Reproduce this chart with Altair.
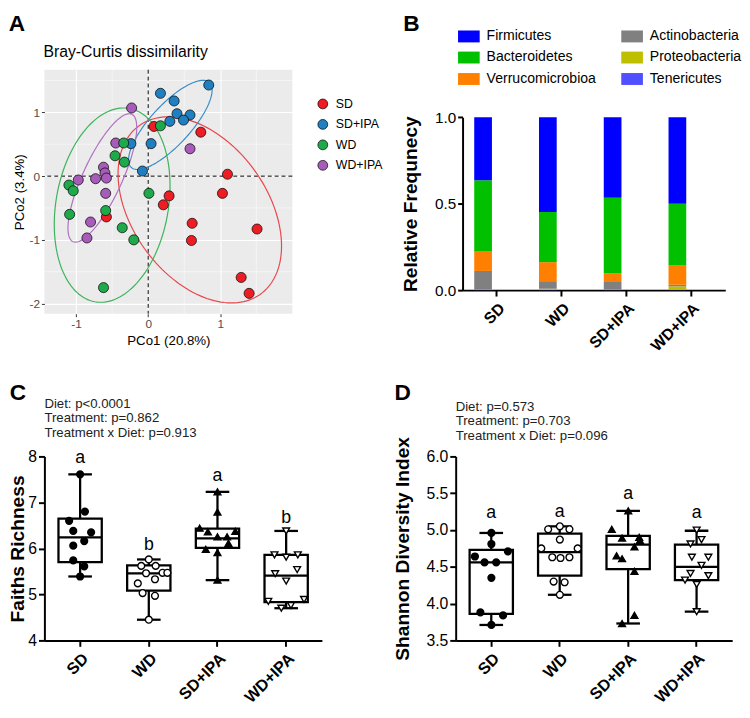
import altair as alt
import numpy as np
import pandas as pd

FONT = "Liberation Sans"

# ---------------- Panel A : PCoA (Bray-Curtis) ----------------
pcoa_groups = ["SD", "SD+IPA", "WD", "WD+IPA"]
pcoa_colors = ["#EE1D23", "#1F7FC1", "#1EAA4B", "#A65CB8"]
ellipse_colors = ["#E8474C", "#3A8DC6", "#3DB35A", "#B071C2"]

sd_pc1 = [0.73, 0.08, 1.10, 1.03, 0.29, 0.21, 0.61, 0.60, 1.51, 1.29, 1.40, -0.58]
sd_pc2 = [0.69, 0.78, 0.03, -0.27, -0.31, -0.45, -0.74, -1.01, -0.83, -1.59, -1.84, -0.64]
sdipa_pc1 = [0.84, 0.17, 0.36, 0.40, 0.58, 0.30, 0.49, 0.04, -0.24, -0.08]
sdipa_pc2 = [1.43, 1.30, 1.18, 0.98, 0.96, 0.86, 0.88, 0.51, 0.51, 0.08]
wdipa_pc1 = [-0.23, -0.45, 0.58, -0.62, -0.60, -0.73, -0.58, -0.97, -0.59, -0.80, -0.85]
wdipa_pc2 = [1.07, 0.52, 0.43, 0.14, 0.05, -0.04, -0.03, -0.06, -0.27, -0.72, -0.97]
wd_pc1 = [0.17, -0.34, -0.46, -0.33, -1.10, -1.04, 0.01, -1.09, -0.59, -0.36, -0.20, -0.62]
wd_pc2 = [0.79, 0.52, 0.32, 0.22, -0.14, -0.23, -0.27, -0.60, -0.54, -0.81, -1.00, -1.75]

# confidence ellipses: centre and shape matrix
ell_cx = [0.716, 0.307, -0.500, -0.636]
ell_cy = [-0.530, 0.804, -0.455, -0.028]
ell_sxx = [1.286, 0.336, 0.645, 0.2275]
ell_sxy = [-0.642, 0.318, 0.243, 0.376]
ell_syy = [2.132, 0.490, 2.326, 1.016]

major_x = [-1, 0, 1]
major_y = [-2, -1, 0, 1]
minor_x = [-0.5, 0.5, 1.5]
minor_y = [-1.5, -0.5, 0.5, 1.5]

# ---------------- Panel B : phylum composition ----------------
diets = ["SD", "WD", "SD+IPA", "WD+IPA"]
phyla_stack = ["Tenericutes", "Proteobacteria", "Actinobacteria",
               "Verrucomicrobioa", "Bacteroidetes", "Firmicutes"]
phyla_legend = ["Firmicutes", "Bacteroidetes", "Verrucomicrobioa",
                "Actinobacteria", "Proteobacteria", "Tenericutes"]
phyla_colors = ["#0000FF", "#00C000", "#FF8000", "#808080", "#BFBF00", "#5050FF"]
firmicutes = [0.365, 0.548, 0.466, 0.500]
bacteroidetes = [0.411, 0.290, 0.436, 0.357]
verrucomicrobia = [0.113, 0.110, 0.051, 0.112]
actinobacteria = [0.105, 0.044, 0.041, 0.009]
proteobacteria = [0.002, 0.006, 0.002, 0.019]
tenericutes = [0.004, 0.002, 0.004, 0.003]

# ---------------- Panel C : Faith's richness ----------------
c_sd = [7.61, 6.80, 6.60, 6.38, 6.35, 6.16, 6.06, 5.74, 5.61, 5.39]
c_wd = [5.76, 5.62, 5.62, 5.47, 5.47, 5.46, 5.33, 5.24, 5.03, 4.97, 4.45]
c_sdipa = [7.23, 6.79, 6.44, 6.36, 6.25, 6.25, 6.37, 6.11, 5.98, 5.91, 5.31]
c_wdipa = [6.38, 5.86, 5.81, 5.86, 5.45, 5.54, 5.29, 4.85, 4.89, 4.70, 4.76]
c_sd_j = [0, 0.07, -0.16, -0.10, 0.16, 0.06, -0.10, -0.10, 0.06, 0]
c_wd_j = [0, -0.11, 0.10, 0.20, 0.27, -0.04, 0.09, -0.16, -0.09, 0.09, 0]
c_sdipa_j = [0, 0, -0.26, -0.14, 0, 0.14, 0.26, 0.16, -0.17, 0, 0]
c_wdipa_j = [0, -0.17, 0, 0.17, -0.16, 0.16, 0, -0.26, 0.26, -0.07, 0.07]
c_max = [7.61, 5.76, 7.23, 6.38]
c_q3 = [6.65, 5.63, 6.43, 5.86]
c_med = [6.24, 5.46, 6.22, 5.41]
c_q1 = [5.70, 5.08, 6.01, 4.83]
c_min = [5.39, 4.45, 5.31, 4.70]
c_letters = ["a", "b", "a", "b"]
c_letter_y = [7.96, 6.08, 7.57, 6.65]
c_stats = "Diet: p<0.0001\nTreatment: p=0.862\nTreatment x Diet: p=0.913"

# ---------------- Panel D : Shannon diversity ----------------
d_sd = [4.96, 4.81, 4.64, 4.71, 4.56, 4.56, 4.35, 3.88, 3.84, 3.71]
d_wd = [5.01, 5.05, 5.01, 4.87, 4.75, 4.75, 4.63, 4.62, 4.63, 4.30, 4.29, 4.12]
d_sdipa = [5.26, 5.01, 4.89, 4.90, 4.86, 4.77, 4.65, 4.61, 4.44, 3.84, 3.73]
d_wdipa = [5.00, 4.87, 4.81, 4.63, 4.63, 4.52, 4.41, 4.38, 4.32, 4.26, 3.89]
d_sd_j = [0, 0, -0.24, 0.24, -0.10, 0.07, 0, -0.16, 0.17, 0]
d_wd_j = [-0.17, 0, 0.14, 0, -0.27, 0.26, -0.11, 0.01, 0.14, -0.09, 0.07, 0]
d_sdipa_j = [0, -0.24, -0.09, 0.16, 0.17, 0.09, -0.17, -0.09, 0.09, 0.09, -0.09]
d_wdipa_j = [0, 0.07, -0.09, -0.07, 0.17, 0.07, -0.09, 0.17, -0.17, 0, 0]
d_max = [4.96, 5.05, 5.26, 4.99]
d_q3 = [4.73, 4.95, 4.92, 4.80]
d_med = [4.56, 4.70, 4.80, 4.50]
d_q1 = [3.86, 4.38, 4.47, 4.32]
d_min = [3.71, 4.12, 3.73, 3.89]
d_letters = ["a", "a", "a", "a"]
d_letter_y = [5.23, 5.25, 5.49, 5.23]
d_stats = "Diet: p=0.573\nTreatment: p=0.703\nTreatment x Diet: p=0.096"


def tag(letter, x, y):
    return alt.Chart(pd.DataFrame({"t": [letter]})).mark_text(
        font=FONT, fontSize=23, fontWeight="bold", align="left",
        baseline="top", color="black").encode(
        text="t:N", x=alt.value(x), y=alt.value(y))


# ======== build A ========
pts_rows = []
for g, xs_, ys_ in [("SD", sd_pc1, sd_pc2), ("SD+IPA", sdipa_pc1, sdipa_pc2),
                    ("WD+IPA", wdipa_pc1, wdipa_pc2), ("WD", wd_pc1, wd_pc2)]:
    for a, b in zip(xs_, ys_):
        pts_rows.append({"group": g, "pc1": a, "pc2": b})
df_pts = pd.DataFrame(pts_rows)

t = np.linspace(0, 2 * np.pi, 145)
ell_rows = []
for g, cx, cy, a, b, c in zip(pcoa_groups, ell_cx, ell_cy, ell_sxx, ell_sxy, ell_syy):
    L = np.linalg.cholesky(np.array([[a, b], [b, c]]))
    p = L @ np.vstack([np.cos(t), np.sin(t)])
    for i in range(len(t)):
        ell_rows.append({"egroup": g, "pc1": cx + p[0, i], "pc2": cy + p[1, i], "i": i})
df_ell = pd.DataFrame(ell_rows)

A_W, A_H = 252, 248
xs_a = alt.Scale(domain=[-1.44, 2.0], nice=False, zero=False)
ys_a = alt.Scale(domain=[-2.16, 1.67], nice=False, zero=False)
common_a = dict(grid=True, gridColor="white", gridWidth=1.1, domain=False,
                tickColor="#333333", tickSize=3, tickWidth=1, labelColor="#4D4D4D",
                labelFontSize=12, labelFont=FONT, titleFont=FONT, titleFontSize=13.5,
                titleFontWeight="normal", titleColor="black",
                labelExpr="replace(datum.label, '\u2212', '-')")
ax_ax = alt.Axis(values=major_x, title="PCo1 (20.8%)", labelPadding=2, titlePadding=4, **common_a)
ax_ay = alt.Axis(values=major_y, title="PCo2 (3.4%)", labelPadding=2, titlePadding=3, **common_a)
XA = lambda: alt.X("pc1:Q", scale=xs_a, axis=ax_ax)
YA = lambda: alt.Y("pc2:Q", scale=ys_a, axis=ax_ay)

minor_v = alt.Chart(pd.DataFrame({"pc1": minor_x})).mark_rule(color="white", strokeWidth=0.5).encode(x=XA())
minor_h = alt.Chart(pd.DataFrame({"pc2": minor_y})).mark_rule(color="white", strokeWidth=0.5).encode(y=YA())
zero_v = alt.Chart(pd.DataFrame({"pc1": [0]})).mark_rule(color="black", strokeDash=[4, 3], strokeWidth=1).encode(x=XA())
zero_h = alt.Chart(pd.DataFrame({"pc2": [0]})).mark_rule(color="black", strokeDash=[4, 3], strokeWidth=1).encode(y=YA())
ells = alt.Chart(df_ell).mark_line(strokeWidth=1.2).encode(
    x=XA(), y=YA(), order="i:Q",
    stroke=alt.Stroke("egroup:N", scale=alt.Scale(domain=pcoa_groups, range=ellipse_colors), legend=None))
points_a = alt.Chart(df_pts).mark_point(
    filled=True, shape="circle", size=105, stroke="black", strokeWidth=0.7, opacity=1).encode(
    x=XA(), y=YA(),
    fill=alt.Fill("group:N", scale=alt.Scale(domain=pcoa_groups, range=pcoa_colors),
                  legend=alt.Legend(title=None, orient="none", legendX=276.7, legendY=28.5,
                                    symbolType="circle", symbolSize=100, symbolStrokeColor="black",
                                    symbolStrokeWidth=0.7, symbolOpacity=1, labelFontSize=12.5,
                                    labelFont=FONT, labelColor="black", labelOffset=7,
                                    rowPadding=6.8, padding=0)))
title_a = alt.Chart(pd.DataFrame({"t": ["Bray-Curtis dissimilarity"]})).mark_text(
    font=FONT, fontSize=16, align="left", baseline="alphabetic", color="black").encode(
    text="t:N", x=alt.value(-1), y=alt.value(-12.5))

chart_a = alt.layer(minor_v, minor_h, zero_v, zero_h, ells, points_a, title_a,
                    tag("A", -36.3, -57)).resolve_scale(fill="independent", stroke="independent").properties(
    width=A_W, height=A_H, view=alt.ViewBackground(fill="#EBEBEB", stroke=None))

# ======== build B ========
# B's plot area starts at the same top as A's; the bars occupy its lower part
B_H = 224
B_TOP = 48.3
comp = {"Firmicutes": firmicutes, "Bacteroidetes": bacteroidetes,
        "Verrucomicrobioa": verrucomicrobia, "Actinobacteria": actinobacteria,
        "Proteobacteria": proteobacteria, "Tenericutes": tenericutes}
b_rows = []
for di, d in enumerate(diets):
    for k, ph in enumerate(phyla_stack):
        b_rows.append({"diet": d, "phylum": ph, "frac": comp[ph][di], "k": k})
df_b = pd.DataFrame(b_rows)

prism_axis = dict(domainColor="black", domainWidth=2, tickColor="black", tickWidth=2,
                  labelColor="black", labelFont=FONT, titleFont=FONT, grid=False)
bars = alt.Chart(df_b).mark_bar().encode(
    x=alt.X("diet:N", sort=diets, scale=alt.Scale(paddingInner=0.304, paddingOuter=0.18),
            axis=alt.Axis(title=None, labelAngle=-45, labelFontSize=16, labelFontWeight="bold",
                          tickSize=6, labelPadding=4, **prism_axis)),
    y=alt.Y("frac:Q", stack="zero", scale=alt.Scale(domain=[0, 1], nice=False, range=[B_H, B_TOP]),
            axis=alt.Axis(values=[0, 0.5, 1], format=".1f", title="Relative Frequnecy",
                          titleFontSize=19.5, titleFontWeight="bold", titleColor="black",
                          titlePadding=14, labelFontSize=15.5, labelPadding=2, tickSize=5,
                          **prism_axis)),
    color=alt.Color("phylum:N", scale=alt.Scale(domain=phyla_legend, range=phyla_colors),
                    legend=alt.Legend(title=None, orient="none", legendX=-4.6, legendY=-45.2,
                                      columns=2, direction="vertical", columnPadding=24.9, rowPadding=2.8,
                                      symbolType="M-1,-0.55H1V0.55H-1Z", symbolSize=484,
                                      symbolStrokeWidth=0, labelFontSize=14.3, labelFont=FONT,
                                      labelColor="black", labelOffset=7, padding=0)),
    order=alt.Order("k:Q"),
)
chart_b = alt.layer(bars, tag("B", -60.3, -57)).properties(width=267, height=B_H)


# ======== build C / D ========
def box_panel(values, jitters, q_min, q1, med, q3, q_max, letters, letter_y,
              ydom, yvals, yfmt, ytitle, tpad, width, stats_text, stats_y, letter, tag_x):
    df_p = pd.DataFrame({
        "grp": sum([[g] * len(v) for g, v in zip(diets, values)], []),
        "v": sum(values, []),
        "jit": sum(jitters, []),
    })
    df_s = pd.DataFrame({"grp": diets, "lo": q_min, "q1": q1, "med": med, "q3": q3,
                         "hi": q_max, "lab": letters, "ly": letter_y})
    xs = alt.Scale(domain=diets, paddingInner=0, paddingOuter=0.02)
    ys = alt.Scale(domain=ydom, nice=False, zero=False)
    xax = alt.Axis(title=None, labelAngle=-45, labelFontSize=16.5, labelFontWeight="bold",
                   labelPadding=4, tickSize=6, **prism_axis)
    yax = alt.Axis(values=yvals, format=yfmt, title=ytitle, titleFontSize=19.5,
                   titleFontWeight="bold", titleColor="black", titlePadding=tpad,
                   labelFontSize=16, labelPadding=2, tickSize=6, **prism_axis)
    X = lambda: alt.X("grp:N", sort=diets, scale=xs, axis=xax)
    Y = lambda f: alt.Y(f + ":Q", scale=ys, axis=yax)
    whisk = alt.Chart(df_s).mark_rule(color="black", strokeWidth=2.3).encode(x=X(), y=Y("lo"), y2="hi:Q")
    box = alt.Chart(df_s).mark_bar(fill="white", stroke="black", strokeWidth=2.3, width=44).encode(
        x=X(), y=Y("q1"), y2="q3:Q")
    cap_lo = alt.Chart(df_s).mark_tick(color="black", size=24, thickness=2.3, opacity=1).encode(x=X(), y=Y("lo"))
    cap_hi = alt.Chart(df_s).mark_tick(color="black", size=24, thickness=2.3, opacity=1).encode(x=X(), y=Y("hi"))
    median = alt.Chart(df_s).mark_tick(color="black", size=44, thickness=2.3, opacity=1).encode(x=X(), y=Y("med"))
    pts = alt.Chart(df_p).mark_point(stroke="black", strokeWidth=1.4, size=48, opacity=1).encode(
        x=X(), y=Y("v"),
        xOffset=alt.XOffset("jit:Q", scale=alt.Scale(domain=[-0.5, 0.5])),
        shape=alt.Shape("grp:N", scale=alt.Scale(domain=diets,
                        range=["circle", "circle", "triangle-up", "triangle-down"]), legend=None),
        fill=alt.Fill("grp:N", scale=alt.Scale(domain=diets,
                      range=["black", "white", "black", "white"]), legend=None))
    labs = alt.Chart(df_s).mark_text(font=FONT, fontSize=18, baseline="middle", color="black").encode(
        x=X(), y=Y("ly"), text="lab:N")
    stats = alt.Chart(pd.DataFrame({"t": [stats_text]})).mark_text(
        font=FONT, fontSize=13.4, align="left", baseline="alphabetic", lineBreak="\n",
        lineHeight=14.8, color="#222222").encode(text="t:N", x=alt.value(0), y=alt.value(stats_y))
    return alt.layer(whisk, box, cap_lo, cap_hi, median, pts, labs, stats,
                     tag(letter, tag_x, -75)).properties(width=width, height=187)


chart_c = box_panel([c_sd, c_wd, c_sdipa, c_wdipa], [c_sd_j, c_wd_j, c_sdipa_j, c_wdipa_j],
                    c_min, c_q1, c_med, c_q3, c_max, c_letters, c_letter_y,
                    [4, 8], [4, 5, 6, 7, 8], "d", "Faiths Richness", 0, 282, c_stats, -49.3, "C", -35.3)
chart_d = box_panel([d_sd, d_wd, d_sdipa, d_wdipa], [d_sd_j, d_wd_j, d_sdipa_j, d_wdipa_j],
                    d_min, d_q1, d_med, d_q3, d_max, d_letters, d_letter_y,
                    [3.5, 6.0], [3.5, 4.0, 4.5, 5.0, 5.5, 6.0], ".1f", "Shannon Diversity Index",
                    14, 281, d_stats, -46.3, "D", -62.3)

indep = dict(fill="independent", color="independent", shape="independent", stroke="independent")
row1 = alt.hconcat(chart_a, chart_b, spacing=18).resolve_scale(**indep)
row2 = alt.hconcat(chart_c, chart_d, spacing=71).resolve_scale(**indep)
chart = alt.vconcat(row1, row2, spacing=29).resolve_scale(**indep).properties(padding=0).configure(
    font=FONT).configure_view(stroke=None)

chart.save("out.html", embed_options={"renderer": "svg", "actions": False})
